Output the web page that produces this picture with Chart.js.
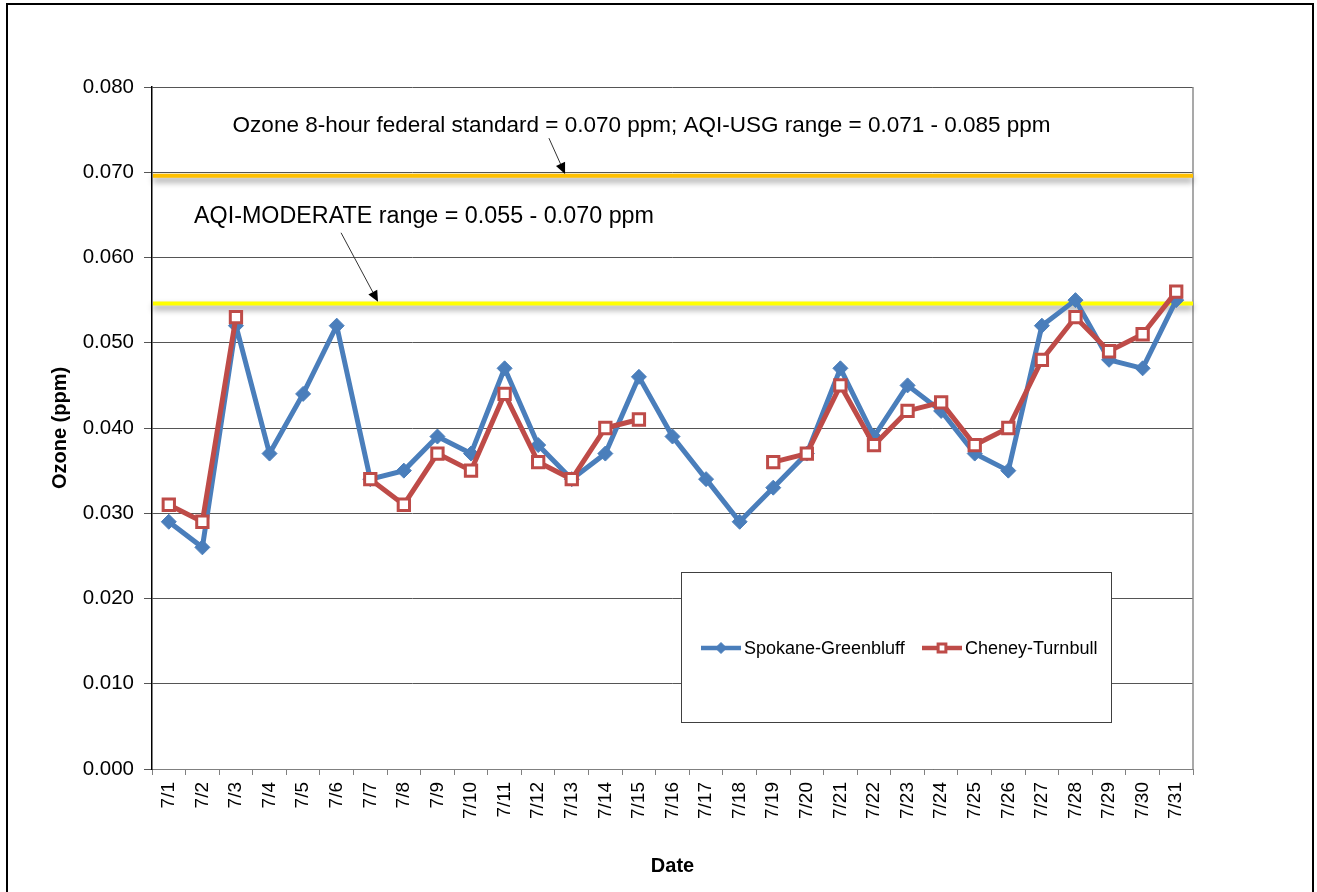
<!DOCTYPE html>
<html>
<head>
<meta charset="utf-8">
<title>Ozone - July</title>
<script src="https://cdn.jsdelivr.net/npm/chart.js@4.4.1/dist/chart.umd.min.js"></script>
<style>
    html, body { margin: 0; padding: 0; background: #fff; }
    #wrap { position: absolute; left: 0; top: 0; width: 1317px; height: 892px; }
    #frame { position: absolute; left: 6px; top: 3px; width: 1308px; height: 920px; border: 2px solid #000; box-sizing: border-box; pointer-events: none; }
</style>
</head>
<body>
<div id="wrap"><canvas id="ozoneChart" width="1317" height="892"></canvas></div>
<div id="frame"></div>

<script>
// 1. DATA
const days = ['7/1','7/2','7/3','7/4','7/5','7/6','7/7','7/8','7/9','7/10','7/11','7/12','7/13','7/14','7/15','7/16',
              '7/17','7/18','7/19','7/20','7/21','7/22','7/23','7/24','7/25','7/26','7/27','7/28','7/29','7/30','7/31'];

const spokane = [0.029, 0.026, 0.052, 0.037, 0.044, 0.052, 0.034, 0.035, 0.039, 0.037, 0.047, 0.038, 0.034, 0.037, 0.046, 0.039,
                 0.034, 0.029, 0.033, 0.037, 0.047, 0.039, 0.045, 0.042, 0.037, 0.035, 0.052, 0.055, 0.048, 0.047, 0.055];

const cheney = [0.031, 0.029, 0.053, null, null, null, 0.034, 0.031, 0.037, 0.035, 0.044, 0.036, 0.034, 0.040, 0.041, null,
                null, null, 0.036, 0.037, 0.045, 0.038, 0.042, 0.043, 0.038, 0.040, 0.048, 0.053, 0.049, 0.051, 0.056];

const seriesNames = ['Spokane-Greenbluff', 'Cheney-Turnbull'];
const yTicks = [0, 0.01, 0.02, 0.03, 0.04, 0.05, 0.06, 0.07, 0.08];

// drawn standard lines (USG / moderate)
const standardLines = [0.0696, 0.0546];
const noteLabels = [
    'Ozone 8-hour federal standard = 0.070 ppm; AQI-USG range = 0.071 - 0.085 ppm',
    'AQI-MODERATE range = 0.055 - 0.070 ppm'
];

const FONT = '"Liberation Sans", Arial, sans-serif';

// 2. ANNOTATIONS (standard lines, notes, arrows)
// anchors are in data units: x = category index, y = ppm
const noteAnchors = [ { x: 14.08, y: 0.0755, size: 22.5 }, { x: 7.6, y: 0.0648, size: 23.3 } ];
const arrowAnchors = [
    { x1: 11.32, y1: 0.0740, x2: 11.8, y2: 0.0698 },
    { x1: 5.13,  y1: 0.0629, x2: 6.23, y2: 0.0548 }
];
const lineColors = ['#FFC000', '#FFFF00'];

function drawArrow(ctx, x1, y1, x2, y2) {
    const ang = Math.atan2(y2 - y1, x2 - x1);
    const len = 11, half = 5;
    ctx.strokeStyle = '#333';
    ctx.lineWidth = 1;
    ctx.beginPath();
    ctx.moveTo(x1, y1);
    ctx.lineTo(x2 - Math.cos(ang) * len, y2 - Math.sin(ang) * len);
    ctx.stroke();
    ctx.fillStyle = '#000';
    ctx.beginPath();
    ctx.moveTo(x2, y2);
    ctx.lineTo(x2 - Math.cos(ang) * len + Math.sin(ang) * half, y2 - Math.sin(ang) * len - Math.cos(ang) * half);
    ctx.lineTo(x2 - Math.cos(ang) * len - Math.sin(ang) * half, y2 - Math.sin(ang) * len + Math.cos(ang) * half);
    ctx.closePath();
    ctx.fill();
}

const standardsPlugin = {
    id: 'standards',
    beforeDatasetsDraw(chart) {
        const { ctx, chartArea, scales: { x, y } } = chart;
        ctx.save();

        // grey plot-area border on the right
        ctx.strokeStyle = '#8c8c8c';
        ctx.lineWidth = 1.5;
        ctx.beginPath();
        ctx.moveTo(chartArea.right, chartArea.top);
        ctx.lineTo(chartArea.right, chartArea.bottom);
        ctx.stroke();

        standardLines.forEach((v, i) => {
            const py = y.getPixelForValue(v);
            ctx.save();
            ctx.shadowColor = 'rgba(0,0,0,0.45)';
            ctx.shadowBlur = 6;
            ctx.shadowOffsetY = 4;
            ctx.strokeStyle = lineColors[i];
            ctx.lineWidth = 4;
            ctx.beginPath();
            ctx.moveTo(chartArea.left + 1, py);
            ctx.lineTo(chartArea.right, py);
            ctx.stroke();
            ctx.restore();
        });

        ctx.fillStyle = '#000';
        ctx.textAlign = 'center';
        ctx.textBaseline = 'middle';
        noteLabels.forEach((t, i) => {
            ctx.font = noteAnchors[i].size + 'px ' + FONT;
            ctx.fillText(t, x.getPixelForValue(noteAnchors[i].x), y.getPixelForValue(noteAnchors[i].y));
        });

        arrowAnchors.forEach(a => {
            drawArrow(ctx, x.getPixelForValue(a.x1), y.getPixelForValue(a.y1),
                           x.getPixelForValue(a.x2), y.getPixelForValue(a.y2));
        });
        ctx.restore();
    }
};

// 3. LEGEND BOX (inside the plot, like the Excel one)
const legendPlugin = {
    id: 'boxLegend',
    afterDatasetsDraw(chart) {
        const ctx = chart.ctx;
        const bx = 681, by = 572, bw = 430, bh = 150;
        const cy = by + 76;
        const itemX = [701, 922];
        ctx.save();
        ctx.fillStyle = '#fff';
        ctx.fillRect(bx, by, bw, bh);
        ctx.strokeStyle = '#404040';
        ctx.lineWidth = 1;
        ctx.strokeRect(bx + 0.5, by + 0.5, bw, bh);

        chart.data.datasets.forEach((ds, i) => {
            const x0 = itemX[i];
            ctx.strokeStyle = ds.borderColor;
            ctx.lineWidth = 4.5;
            ctx.beginPath();
            ctx.moveTo(x0, cy);
            ctx.lineTo(x0 + 40, cy);
            ctx.stroke();
            ctx.fillStyle = ds.pointBackgroundColor;
            ctx.strokeStyle = ds.borderColor;
            ctx.lineWidth = ds.pointBorderWidth;
            Chart.helpers.drawPoint(ctx, {
                pointStyle: ds.pointStyle,
                radius: 5.5,
                borderWidth: ds.pointBorderWidth,
                rotation: 0
            }, x0 + 20, cy);
            ctx.fillStyle = '#000';
            ctx.font = '18px ' + FONT;
            ctx.textAlign = 'left';
            ctx.textBaseline = 'middle';
            ctx.fillText(ds.label, x0 + 43, cy + 1);
        });
        ctx.restore();
    }
};

// 4. CHART
function initChart() {
    const ctx = document.getElementById('ozoneChart').getContext('2d');
    new Chart(ctx, {
        type: 'line',
        data: {
            labels: days,
            datasets: [{
                label: seriesNames[0],
                data: spokane,
                borderColor: '#4A7EBB',
                backgroundColor: '#4A7EBB',
                pointBackgroundColor: '#4A7EBB',
                borderWidth: 5,
                pointStyle: 'rectRot',
                pointRadius: 7.5,
                pointBorderWidth: 1,
                tension: 0,
                order: 1
            }, {
                label: seriesNames[1],
                data: cheney,
                borderColor: '#BE4B48',
                backgroundColor: '#fff',
                pointBackgroundColor: '#fff',
                borderWidth: 5,
                pointStyle: 'rect',
                pointRadius: 8,
                pointBorderWidth: 3,
                tension: 0,
                spanGaps: false,
                order: 0
            }]
        },
        options: {
            responsive: false,
            animation: false,
            devicePixelRatio: 1,
            layout: { padding: { top: 87, right: 124, bottom: 0, left: 0 } },
            plugins: {
                legend: { display: false },
                tooltip: { enabled: false }
            },
            scales: {
                x: {
                    offset: true,
                    grid: { display: true, drawOnChartArea: false, drawTicks: true, tickLength: 6, offset: true, color: '#808080' },
                    border: { color: '#808080', width: 1 },
                    ticks: {
                        color: '#000',
                        font: { family: FONT, size: 19 },
                        minRotation: 90,
                        maxRotation: 90,
                        autoSkip: false,
                        padding: 7
                    },
                    title: {
                        display: true,
                        text: 'Date',
                        color: '#000',
                        font: { family: FONT, size: 20, weight: 'bold' },
                        padding: { top: 0, bottom: 14 }
                    },
                    afterFit: s => { s.height = 123; }
                },
                y: {
                    min: 0,
                    max: 0.08,
                    afterBuildTicks: s => { s.ticks = yTicks.map(v => ({ value: v })); },
                    grid: { color: '#555', lineWidth: 1, tickLength: 8 },
                    border: { color: '#000', width: 1.5 },
                    ticks: {
                        color: '#000',
                        font: { family: FONT, size: 20.5 },
                        padding: 10,
                        callback: v => Number(v).toFixed(3)
                    },
                    title: {
                        display: true,
                        text: 'Ozone (ppm)',
                        color: '#000',
                        font: { family: FONT, size: 20, weight: 'bold' },
                        padding: { top: 48, bottom: 0 }
                    },
                    afterFit: s => { s.width = 152; }
                }
            }
        },
        plugins: [standardsPlugin, legendPlugin]
    });
}

window.onload = initChart;
</script>
</body>
</html>
